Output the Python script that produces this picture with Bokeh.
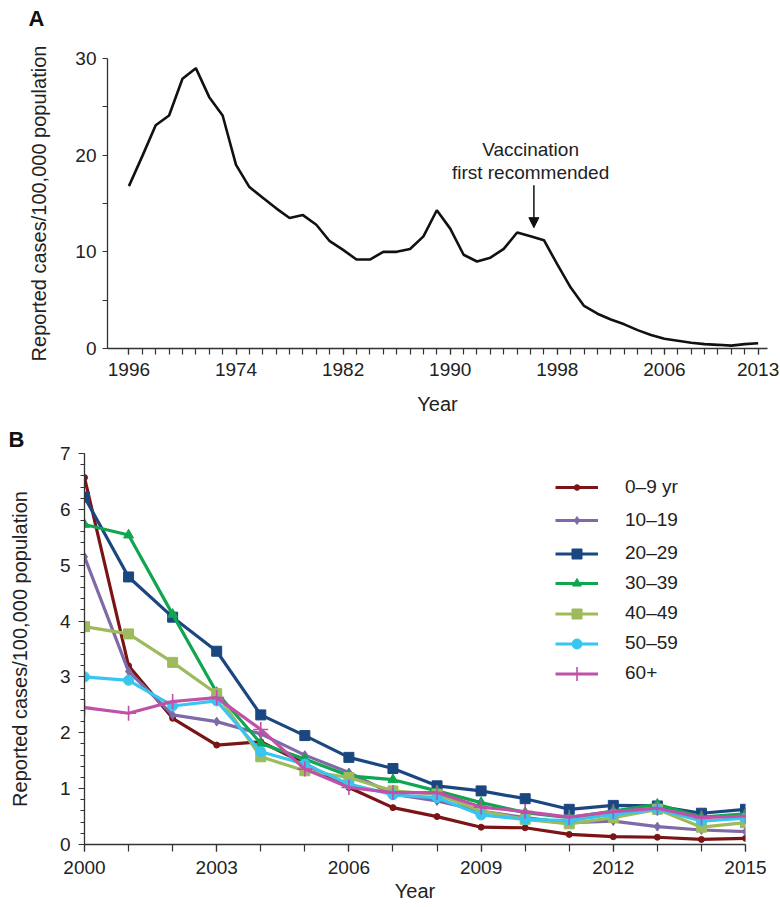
from bokeh.plotting import figure
from bokeh.models import Range1d, FixedTicker, Label, Arrow, NormalHead, Legend, LegendItem
from bokeh.embed import file_html
from bokeh.resources import INLINE

# ---------------- Panel A data ----------------
years_a = list(range(1966, 2014))
rate_a = [16.8, 19.9, 23.1, 24.1, 27.9, 29.0, 26.0, 24.1, 19.0, 16.7,
          15.6, 14.5, 13.5, 13.8, 12.8, 11.1, 10.2, 9.2, 9.2, 10.0,
          10.0, 10.3, 11.6, 14.3, 12.4, 9.7, 9.0, 9.4, 10.3, 12.0,
          11.6, 11.2, 8.7, 6.3, 4.4, 3.6, 3.0, 2.5, 1.9, 1.4,
          1.0, 0.8, 0.6, 0.45, 0.38, 0.3, 0.45, 0.55]
tick_years_a = [1966, 1974, 1982, 1990, 1998, 2006, 2013]
tick_labels_a = ["1996", "1974", "1982", "1990", "1998", "2006", "2013"]
yticks_a = [0, 10, 20, 30]
yminor_a = [5, 15, 25]

# ---------------- Panel B data ----------------
years_b = list(range(2000, 2016))
groups = ["0–9 yr", "10–19", "20–29", "30–39", "40–49", "50–59", "60+"]
rate_0_9 = [6.57, 3.2, 2.26, 1.78, 1.84, 1.45, 1.02, 0.66, 0.50, 0.31, 0.30, 0.18, 0.14, 0.13, 0.09, 0.11]
rate_10_19 = [5.15, 3.1, 2.32, 2.2, 1.98, 1.6, 1.29, 0.9, 0.78, 0.6, 0.48, 0.39, 0.42, 0.32, 0.26, 0.23]
rate_20_29 = [6.22, 4.79, 4.07, 3.46, 2.32, 1.95, 1.56, 1.36, 1.05, 0.96, 0.82, 0.63, 0.70, 0.69, 0.56, 0.63]
rate_30_39 = [5.73, 5.54, 4.12, 2.72, 1.81, 1.53, 1.23, 1.16, 0.96, 0.75, 0.57, 0.48, 0.60, 0.72, 0.49, 0.55]
rate_40_49 = [3.9, 3.77, 3.26, 2.7, 1.57, 1.32, 1.2, 0.96, 0.9, 0.6, 0.45, 0.37, 0.48, 0.63, 0.31, 0.39]
rate_50_59 = [3.0, 2.94, 2.48, 2.57, 1.66, 1.44, 1.08, 0.89, 0.84, 0.53, 0.45, 0.43, 0.54, 0.63, 0.42, 0.47]
rate_60 = [2.45, 2.35, 2.56, 2.63, 2.06, 1.35, 1.02, 0.93, 0.93, 0.67, 0.59, 0.49, 0.59, 0.65, 0.48, 0.51]
series_b = [rate_0_9, rate_10_19, rate_20_29, rate_30_39, rate_40_49, rate_50_59, rate_60]
colors_b = ["#7a1416", "#7e6aa8", "#1b4780", "#10a650", "#9dbb5c", "#38c5f0", "#c050a8"]
markers_b = ["circle", "diamond", "square", "triangle", "square", "circle", "cross"]
msizes_b = [6, 9, 10, 10, 10, 10, 15]
legend_msizes_b = [5.5, 8, 10, 9, 10, 10, 14]
xticks_b = [2000, 2003, 2006, 2009, 2012, 2015]
yticks_b = [0, 1, 2, 3, 4, 5, 6, 7]
yminor_b = [round(i * 0.2, 1) for i in range(36)]

FONT = "Liberation Sans"
TXT = "#222222"
AX = "#333333"


def style_axis(ax):
    ax.axis_line_color = AX
    ax.axis_line_width = 1.3
    ax.major_tick_line_color = AX
    ax.minor_tick_line_color = AX
    ax.major_tick_line_width = 1.2
    ax.minor_tick_line_width = 1.2
    ax.major_tick_in = 0
    ax.minor_tick_in = 0
    ax.major_label_text_font = FONT
    ax.major_label_text_font_size = "19px"
    ax.major_label_text_color = TXT
    ax.axis_label_text_font = FONT
    ax.axis_label_text_font_size = "20px"
    ax.axis_label_text_font_style = "normal"
    ax.axis_label_text_color = TXT


def style_title(p, txt, offset, standoff):
    p.title.text = txt
    p.title.align = "left"
    p.title.offset = offset
    p.title.standoff = standoff
    p.title.text_font = FONT
    p.title.text_font_size = "22px"
    p.title.text_font_style = "bold"
    p.title.text_color = "#111111"


# ---------------- Panel A ----------------
pa = figure(width=780, height=420, x_range=Range1d(1964.4, 2013.7), y_range=Range1d(0, 30),
            output_backend="svg", toolbar_location=None,
            min_border_left=107, min_border_right=13, min_border_top=57, min_border_bottom=72)
pa.outline_line_color = None
pa.grid.visible = False
pa.line(years_a, rate_a, line_width=2.6, color="#111111")
# two-line title (second line blank) lifts the letter higher above the frame
style_title(pa, "A\n\u00a0", -79, 6)
pa.title.text_line_height = 1.0

xa = pa.xaxis[0]
style_axis(xa)
xa.ticker = FixedTicker(ticks=tick_years_a, minor_ticks=years_a)
xa.major_label_overrides = {y: l for y, l in zip(tick_years_a, tick_labels_a)}
xa.major_tick_out = 6
xa.minor_tick_out = 6
xa.major_label_standoff = 8
xa.axis_label = "Year"
xa.axis_label_standoff = 14

ya = pa.yaxis[0]
style_axis(ya)
ya.ticker = FixedTicker(ticks=yticks_a, minor_ticks=yminor_a)
ya.major_tick_out = 5
ya.minor_tick_out = 5
ya.major_label_standoff = 6
ya.axis_label = "Reported cases/100,000 population"
ya.axis_label_standoff = 22

pa.add_layout(Label(x=1996, y=20.6, text="Vaccination", text_align="center",
                    text_baseline="alphabetic", text_font=FONT, text_font_size="19px",
                    text_color=TXT))
pa.add_layout(Label(x=1996, y=18.2, text="first recommended", text_align="center",
                    text_baseline="alphabetic", text_font=FONT, text_font_size="19px",
                    text_color=TXT))
pa.add_layout(Arrow(x_start=1996.25, y_start=16.9, x_end=1996.25, y_end=12.5,
                    line_width=1.5, line_color="#111111",
                    end=NormalHead(size=10, fill_color="#111111", line_color="#111111")))

# ---------------- Panel B ----------------
pb = figure(width=780, height=487, x_range=Range1d(2000, 2015), y_range=Range1d(0, 7),
            output_backend="svg", toolbar_location=None,
            min_border_left=84, min_border_right=35, min_border_top=33, min_border_bottom=63)
pb.outline_line_color = None
pb.grid.visible = False
style_title(pb, "B", -76, 4)

row_centers_from_bottom = [353, 323, 291, 261, 231, 201, 171]  # legend row centres (px above frame bottom)
for i, (name, vals, col, mk, ms, lms) in enumerate(zip(groups, series_b, colors_b, markers_b,
                                                         msizes_b, legend_msizes_b)):
    lr = pb.line(years_b, vals, line_width=3.2, color=col)
    if mk == "cross":
        sr = pb.scatter(years_b, vals, marker=mk, size=ms, line_color=col, line_width=1.6)
    else:
        sr = pb.scatter(years_b, vals, marker=mk, size=ms, fill_color=col, line_color=col)
    gh = lms / 0.4
    leg = Legend(items=[LegendItem(label=name, renderers=[lr, sr])],
                 location=(471, row_centers_from_bottom[i] - gh / 2),
                 glyph_width=43, glyph_height=int(round(gh)), label_height=int(round(gh)),
                 spacing=0, padding=0, margin=0, label_standoff=27,
                 label_text_font=FONT, label_text_font_size="19px", label_text_color=TXT,
                 label_text_baseline="middle",
                 border_line_alpha=0, background_fill_alpha=0)
    pb.add_layout(leg)

xb = pb.xaxis[0]
style_axis(xb)
xb.ticker = FixedTicker(ticks=xticks_b, minor_ticks=years_b)
xb.major_tick_out = 7
xb.minor_tick_out = 7
xb.major_label_standoff = 9
xb.axis_label = "Year"
xb.axis_label_standoff = 3

yb = pb.yaxis[0]
style_axis(yb)
yb.ticker = FixedTicker(ticks=yticks_b, minor_ticks=yminor_b)
yb.major_tick_out = 6
yb.minor_tick_out = 4
yb.major_label_standoff = 8
yb.axis_label = "Reported cases/100,000 population"
yb.axis_label_standoff = 26

open("out.html", "w").write(file_html([pa, pb], INLINE))
